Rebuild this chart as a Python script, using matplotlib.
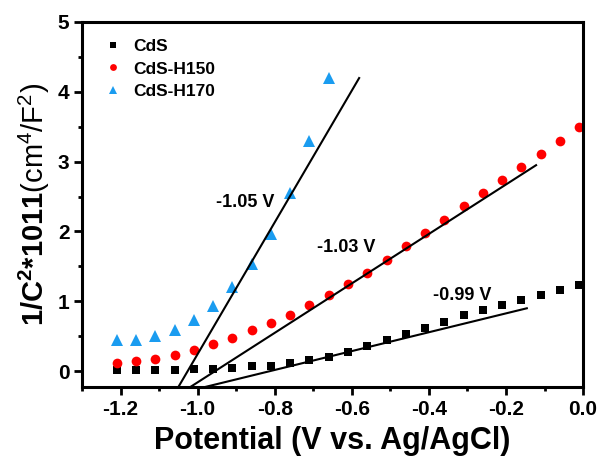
import numpy as np
import matplotlib
matplotlib.use("Agg")
import matplotlib.pyplot as plt
from matplotlib.ticker import MultipleLocator

plt.rcParams['font.family'] = ['Liberation Sans', 'DejaVu Sans']
plt.rcParams['mathtext.fontset'] = 'custom'
plt.rcParams['mathtext.rm'] = 'Liberation Sans'
plt.rcParams['mathtext.bf'] = 'Liberation Sans:bold'
plt.rcParams['mathtext.it'] = 'Liberation Sans:italic'

# ---- data ----
x_start, x_step = -1.21, 0.05
cds = [0.02, 0.02, 0.02, 0.02, 0.03, 0.035, 0.05, 0.07, 0.08, 0.12, 0.16, 0.21,
       0.28, 0.36, 0.44, 0.53, 0.62, 0.71, 0.80, 0.87, 0.95, 1.02, 1.09, 1.16, 1.23]
h150 = [0.12, 0.14, 0.18, 0.23, 0.30, 0.39, 0.48, 0.59, 0.69, 0.81, 0.95, 1.09,
        1.25, 1.41, 1.59, 1.79, 1.98, 2.17, 2.36, 2.55, 2.74, 2.93, 3.11, 3.30, 3.50]
h170 = [0.44, 0.44, 0.50, 0.59, 0.73, 0.93, 1.20, 1.53, 1.97, 2.55, 3.30, 4.19]

labels = ['CdS', 'CdS-H150', 'CdS-H170']
colors = ['black', '#FF0000', '#1A9CF0']
markers = ['s', 'o', '^']
msizes = [6.0, 7.0, 8.0]

# linear fits: x-intercept, slope, fit range end
fit_xint = [-0.813, -0.955, -1.026]
fit_slope = [1.35, 3.54, 9.43]
fit_xend = [-0.146, -0.122, -0.581]
fit_text = ['-0.99 V', '-1.03 V', '-1.05 V']
text_pos = [(-0.314, 1.09), (-0.614, 1.77), (-0.877, 2.41)]

xticks = [-1.2, -1.0, -0.8, -0.6, -0.4, -0.2, 0.0]
yticks = [0, 1, 2, 3, 4, 5]

fig = plt.figure(figsize=(6.03, 4.66), dpi=100)
ax = fig.add_axes([0.136, 0.169, 0.831, 0.784])

series = [cds, h150, h170]
for vals, lab, c, m, ms in zip(series, labels, colors, markers, msizes):
    xs = x_start + x_step * np.arange(len(vals))
    ax.plot(xs, vals, linestyle='none', marker=m, color=c, markersize=ms,
            markeredgewidth=0, label=lab)

for xi, sl, xe in zip(fit_xint, fit_slope, fit_xend):
    xx = np.array([-1.2, xe])
    ax.plot(xx, sl * (xx - xi), color='black', lw=1.5)

for t, (tx, ty) in zip(fit_text, text_pos):
    ax.text(tx, ty, t, fontsize=13, fontweight='bold', ha='center', va='center')

ax.set_xlim(-1.3, 0.0)
ax.set_ylim(-0.23, 5.0)
ax.set_xticks(xticks)
ax.set_xticklabels(['%.1f' % v for v in xticks])
ax.set_yticks(yticks)
ax.xaxis.set_minor_locator(MultipleLocator(0.1))
ax.yaxis.set_minor_locator(MultipleLocator(0.5))
ax.tick_params(which='major', direction='out', length=6, width=2, labelsize=15,
               top=False, right=False, pad=3)
ax.tick_params(which='minor', direction='out', length=3, width=2,
               top=False, right=False)
for lab in ax.get_xticklabels() + ax.get_yticklabels():
    lab.set_fontweight('bold')
for sp in ax.spines.values():
    sp.set_linewidth(2.2)

ax.set_xlabel('Potential (V vs. Ag/AgCl)', fontsize=22, fontweight='bold', labelpad=5)
ax.set_ylabel(r'$\mathbf{1/C^{2}{*}1011}$(cm$^{4}$/F$^{2}$)', fontsize=21, labelpad=4)

leg = ax.legend(loc='upper left', frameon=False, markerscale=0.7,
                handletextpad=0.35, labelspacing=0.4, borderaxespad=0.5,
                handlelength=1.6, borderpad=0.5,
                prop={'weight': 'bold', 'size': 12.5})

fig.savefig('out.png', dpi=100)
